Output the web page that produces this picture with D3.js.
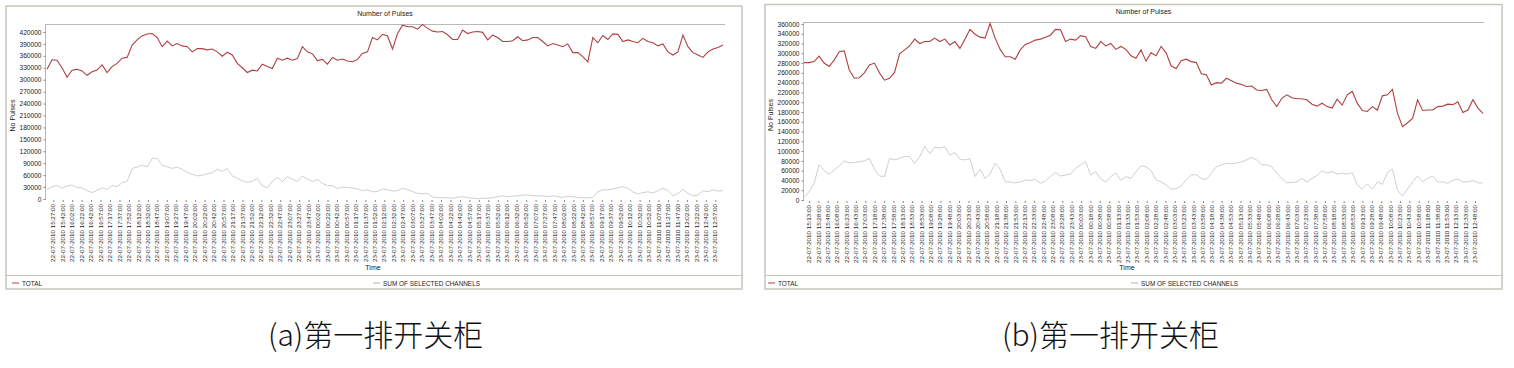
<!DOCTYPE html>
<html><head><meta charset="utf-8">
<script src="https://cdn.jsdelivr.net/npm/d3@7"></script>
<style>html,body{margin:0;padding:0;background:#fff;}svg{display:block;}</style>
</head><body>
<svg id="c" width="1514" height="368"></svg>
<script>
// ---------- DATA ----------
const seriesNames = ["TOTAL", "SUM OF SELECTED CHANNELS"];
const chartTitle = "Number of Pulses";
const yTitle = "No Pulses";
const xTitle = "Time";
const captions = ["(a)第一排开关柜", "(b)第一排开关柜"];

const timeLabelsA = [
"22-07-2010 15:27:00","22-07-2010 15:42:00","22-07-2010 16:02:00","22-07-2010 16:22:00","22-07-2010 16:42:00","22-07-2010 16:57:00","22-07-2010 17:17:00","22-07-2010 17:37:00","22-07-2010 17:52:00","22-07-2010 18:12:00",
"22-07-2010 18:32:00","22-07-2010 18:47:00","22-07-2010 19:07:00","22-07-2010 19:27:00","22-07-2010 19:47:00","22-07-2010 20:02:00","22-07-2010 20:22:00","22-07-2010 20:42:00","22-07-2010 20:57:00","22-07-2010 21:17:00",
"22-07-2010 21:37:00","22-07-2010 21:52:00","22-07-2010 22:12:00","22-07-2010 22:32:00","22-07-2010 22:47:00","22-07-2010 23:07:00","22-07-2010 23:27:00","22-07-2010 23:47:00","23-07-2010 00:02:00","23-07-2010 00:22:00",
"23-07-2010 00:42:00","23-07-2010 00:57:00","23-07-2010 01:17:00","23-07-2010 01:37:00","23-07-2010 01:52:00","23-07-2010 02:12:00","23-07-2010 02:32:00","23-07-2010 02:47:00","23-07-2010 03:07:00","23-07-2010 03:27:00",
"23-07-2010 03:47:00","23-07-2010 04:02:00","23-07-2010 04:22:00","23-07-2010 04:42:00","23-07-2010 04:57:00","23-07-2010 05:17:00","23-07-2010 05:37:00","23-07-2010 05:52:00","23-07-2010 06:12:00","23-07-2010 06:32:00",
"23-07-2010 06:52:00","23-07-2010 07:07:00","23-07-2010 07:27:00","23-07-2010 07:47:00","23-07-2010 08:02:00","23-07-2010 08:22:00","23-07-2010 08:42:00","23-07-2010 08:57:00","23-07-2010 09:17:00","23-07-2010 09:37:00",
"23-07-2010 09:52:00","23-07-2010 10:12:00","23-07-2010 10:32:00","23-07-2010 10:52:00","23-07-2010 11:07:00","23-07-2010 11:27:00","23-07-2010 11:47:00","23-07-2010 12:02:00","23-07-2010 12:22:00","23-07-2010 12:42:00",
"23-07-2010 12:57:00"];

const timeLabelsB = [
"22-07-2010 15:13:00","22-07-2010 15:28:00","22-07-2010 15:48:00","22-07-2010 16:08:00","22-07-2010 16:23:00","22-07-2010 16:43:00","22-07-2010 17:03:00","22-07-2010 17:18:00","22-07-2010 17:38:00","22-07-2010 17:58:00",
"22-07-2010 18:13:00","22-07-2010 18:33:00","22-07-2010 18:53:00","22-07-2010 19:08:00","22-07-2010 19:28:00","22-07-2010 19:48:00","22-07-2010 20:03:00","22-07-2010 20:23:00","22-07-2010 20:43:00","22-07-2010 20:58:00",
"22-07-2010 21:18:00","22-07-2010 21:38:00","22-07-2010 21:53:00","22-07-2010 22:13:00","22-07-2010 22:33:00","22-07-2010 22:48:00","22-07-2010 23:08:00","22-07-2010 23:28:00","22-07-2010 23:43:00","23-07-2010 00:03:00",
"23-07-2010 00:18:00","23-07-2010 00:38:00","23-07-2010 00:58:00","23-07-2010 01:13:00","23-07-2010 01:33:00","23-07-2010 01:53:00","23-07-2010 02:08:00","23-07-2010 02:28:00","23-07-2010 02:48:00","23-07-2010 03:03:00",
"23-07-2010 03:23:00","23-07-2010 03:43:00","23-07-2010 03:58:00","23-07-2010 04:18:00","23-07-2010 04:38:00","23-07-2010 04:53:00","23-07-2010 05:13:00","23-07-2010 05:33:00","23-07-2010 05:48:00","23-07-2010 06:08:00",
"23-07-2010 06:28:00","23-07-2010 06:43:00","23-07-2010 07:03:00","23-07-2010 07:23:00","23-07-2010 07:38:00","23-07-2010 07:58:00","23-07-2010 08:18:00","23-07-2010 08:33:00","23-07-2010 08:53:00","23-07-2010 09:13:00",
"23-07-2010 09:28:00","23-07-2010 09:48:00","23-07-2010 10:08:00","23-07-2010 10:23:00","23-07-2010 10:43:00","23-07-2010 10:58:00","23-07-2010 11:18:00","23-07-2010 11:38:00","23-07-2010 11:53:00","23-07-2010 12:13:00",
"23-07-2010 12:33:00","23-07-2010 12:48:00"];

const yTicksA = [0,30000,60000,90000,120000,150000,180000,210000,240000,270000,300000,330000,360000,390000,420000];
const yTicksB = [0,20000,40000,60000,80000,100000,120000,140000,160000,180000,200000,220000,240000,260000,280000,300000,320000,340000,360000];

// values in thousands of pulses
const totalA = [
326,350,349,330,306,324,326,322,311,320,
324,337,318,333,341,354,356,387,400,410,
415,416,406,383,397,385,391,385,383,370,
378,378,375,377,370,359,369,362,341,330,
318,324,322,339,333,328,354,349,354,349,
353,383,370,365,348,351,339,356,349,352,
347,345,351,366,370,406,400,414,410,377,
416,437,433,433,427,439,429,422,420,421,
413,401,401,425,416,420,421,419,400,412,
406,396,396,398,408,398,400,406,406,396,
385,391,387,383,390,368,368,358,345,406,
393,411,401,415,414,396,400,396,393,404,
396,393,385,390,370,362,370,412,383,368,
362,356,370,377,381,387];
const sumA = [
24,31,34,27,33,35,29,28,21,16,
22,28,24,34,31,41,44,77,80,85,
81,102,102,85,81,77,80,75,67,62,
58,60,63,66,75,69,77,58,52,46,
42,44,52,33,28,44,54,44,56,50,
44,58,50,44,49,39,34,34,26,30,
29,27,25,21,23,18,19,25,23,20,
21,27,23,19,14,13,14,5,4,3,
3,2,4,6,3,2,1,2,2,3,
6,8,6,7,8,10,10,8,8,8,
6,8,6,4,7,6,4,3,3,4,
18,23,23,25,28,31,27,18,13,16,
18,15,21,27,21,8,14,24,14,8,
10,21,18,23,20,21];
const totalB = [
281,281,283,294,280,273,286,303,305,266,
249,250,260,276,280,260,245,249,261,299,
307,315,329,320,324,324,331,324,329,317,
324,310,329,349,339,333,331,361,331,308,
293,293,288,307,318,322,327,329,333,337,
349,348,324,329,327,336,334,314,310,324,
315,320,308,314,308,295,290,307,284,301,
295,314,301,274,269,285,288,283,281,258,
256,235,240,239,249,244,239,236,232,233,
225,224,226,205,191,208,215,209,207,207,
205,196,192,198,191,188,206,194,215,222,
198,183,181,191,184,213,215,226,177,150,
158,167,205,183,184,184,191,192,196,195,
201,179,184,205,188,177];
const sumB = [
5,17,34,72,60,53,61,70,80,76,
77,78,80,85,63,49,48,85,82,85,
89,89,75,89,110,95,108,106,109,92,
97,83,82,85,48,63,44,53,75,63,
37,37,35,37,41,40,42,34,39,48,
56,49,51,53,65,72,78,51,58,43,
37,48,55,40,48,44,58,70,68,60,
41,37,31,22,23,29,41,51,52,44,
42,55,68,72,75,74,76,78,82,87,
82,72,72,68,55,44,35,36,37,44,
37,44,50,60,55,58,53,55,53,56,
31,22,33,22,37,32,56,63,20,8,
22,37,49,37,44,49,37,37,34,40,
43,37,37,40,35,35];

// ---------- STYLE / LAYOUT ----------
const RED = "#b04040", GRAY = "#d0d0d0", FRAME = "#c9c5bb", AXIS = "#b8b8b8", TXT = "#222";
const FONT = "'Liberation Sans', Arial, sans-serif";

const svg = d3.select("#c");
svg.append("rect").attr("width",1514).attr("height",368).attr("fill","#fff");

function panel(cfg){
  const g = svg.append("g");
  const f = cfg.frame;
  g.append("rect").attr("x",f.x).attr("y",f.y).attr("width",f.w).attr("height",f.h)
    .attr("fill","#fff").attr("stroke",FRAME).attr("stroke-width",1.5);
  const p = cfg.plot;
  const y = d3.scaleLinear().domain([0, cfg.yMax]).range([p.bottom, p.top]);
  const xL = d3.scaleLinear().domain([0, cfg.labels.length-1]).range(cfg.labelRange);
  const xD = d3.scaleLinear().domain([0, cfg.total.length-1]).range(cfg.dataRange);

  // title
  g.append("text").attr("x",(p.left+p.right)/2).attr("y",p.top-8).attr("text-anchor","middle")
    .attr("font-family",FONT).attr("font-size",7).attr("fill",TXT).text(chartTitle);
  // top border line
  g.append("line").attr("x1",p.left).attr("x2",p.right).attr("y1",p.top+0.5).attr("y2",p.top+0.5)
    .attr("stroke",AXIS).attr("stroke-width",1);

  // y axis
  const ya = d3.axisLeft(y).tickValues(cfg.yTicks).tickSize(2).tickPadding(2).tickFormat(d3.format("d"));
  const yg = g.append("g").attr("transform",`translate(${p.left+0.5},0)`).call(ya);
  yg.select(".domain").attr("stroke",AXIS).attr("d",`M0,${p.top}V${p.bottom+1}`);
  yg.selectAll(".tick line").attr("stroke","#888");
  yg.selectAll("text").attr("font-family",FONT).attr("font-size",6.6).attr("fill",TXT);

  // x axis (category labels)
  const xa = d3.axisBottom(xL).tickValues(d3.range(cfg.labels.length)).tickSize(2).tickPadding(2)
    .tickFormat(i => cfg.labels[i]);
  const xg = g.append("g").attr("transform",`translate(0,${p.bottom+1})`).call(xa);
  xg.select(".domain").remove();
  xg.selectAll(".tick line").attr("stroke","#888");
  xg.selectAll("text").attr("font-family",FONT).attr("font-size",6.2).attr("fill",TXT)
    .attr("text-anchor","end").attr("dominant-baseline","middle")
    .attr("textLength",58).attr("lengthAdjust","spacingAndGlyphs")
    .attr("transform","rotate(-90)").attr("x",-4).attr("y",0).attr("dy",null);

  // axis titles
  g.append("text").attr("transform",`translate(${cfg.yTitleX},${(p.top+p.bottom)/2 + 4}) rotate(-90)`)
    .attr("text-anchor","middle").attr("font-family",FONT).attr("font-size",7).attr("fill",TXT).text(yTitle);
  g.append("text").attr("x",cfg.xTitlePos[0]).attr("y",cfg.xTitlePos[1]).attr("text-anchor","middle")
    .attr("font-family",FONT).attr("font-size",7).attr("fill",TXT).text(xTitle);

  // lines
  const line = d3.line().x((d,i)=>xD(i)).y(d=>y(d*1000));
  g.append("path").datum(cfg.sum).attr("d",line).attr("fill","none").attr("stroke",GRAY).attr("stroke-width",1);
  g.append("path").datum(cfg.total).attr("d",line).attr("fill","none").attr("stroke",RED).attr("stroke-width",1.1);

  // legend
  const ly = cfg.legendY;
  g.append("line").attr("x1",f.x).attr("x2",f.x+f.w).attr("y1",ly-7.5).attr("y2",ly-7.5).attr("stroke",FRAME).attr("stroke-width",1);
  const items = [[seriesNames[0],RED,cfg.legendX[0]],[seriesNames[1],"#b5b5b5",cfg.legendX[1]]];
  items.forEach(([name,col,lx])=>{
    g.append("line").attr("x1",lx).attr("x2",lx+7).attr("y1",ly).attr("y2",ly).attr("stroke",col).attr("stroke-width",1);
    g.append("text").attr("x",lx+10).attr("y",ly+2.5).attr("font-family",FONT).attr("font-size",6.4).attr("fill",TXT).text(name);
  });
}

panel({
  frame:{x:6,y:6,w:736,h:283},
  plot:{left:45,right:725,top:24,bottom:199},
  yMax:440000, yTicks:yTicksA,
  labels:timeLabelsA, labelRange:[53.3,715.3], dataRange:[47,723],
  total:totalA, sum:sumA,
  yTitleX:15, xTitlePos:[373,270],
  legendY:283, legendX:[12,373]
});
panel({
  frame:{x:765,y:4.5,w:737,h:284.5},
  plot:{left:803,right:1484,top:22,bottom:200},
  yMax:364000, yTicks:yTicksB,
  labels:timeLabelsB, labelRange:[809,1475], dataRange:[804,1483],
  total:totalB, sum:sumB,
  yTitleX:773, xTitlePos:[1127,270],
  legendY:283, legendX:[768,1131]
});

// captions
const capX = [268, 1002];
captions.forEach((t,i)=>{
  svg.append("text").attr("x",capX[i]).attr("y",346)
    .attr("font-family","'Noto Sans CJK SC', sans-serif").attr("font-size",30).attr("font-weight",300)
    .attr("fill","#111").text(t);
});
</script>
</body></html>
